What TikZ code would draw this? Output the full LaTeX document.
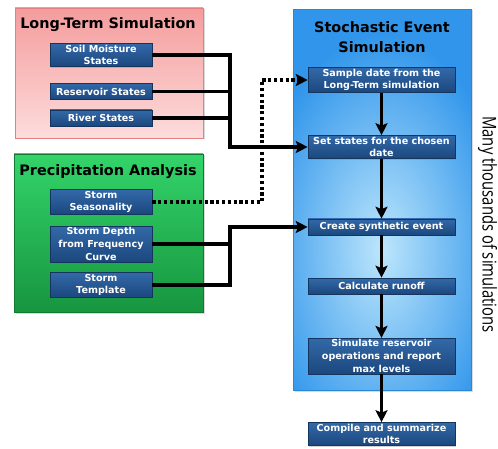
\documentclass[tikz,border=0pt]{standalone}
\usepackage{fontspec}
\setmainfont{DejaVu Sans}
\newfontfamily\sidefont{Open Sans}
\usepackage{tikz}
\usetikzlibrary{arrows.meta,calc,shadows}
\definecolor{cPinkT}{HTML}{F59C9C}
\definecolor{cPinkB}{HTML}{FDDCDC}
\definecolor{cPinkD}{HTML}{E68080}
\definecolor{cGreenT}{HTML}{33D46A}
\definecolor{cGreenB}{HTML}{17953F}
\definecolor{cGreenD}{HTML}{0F7A30}
\definecolor{cSky}{HTML}{3196EB}
\definecolor{cSkyL}{HTML}{BDE6FC}
\definecolor{cSkyD}{HTML}{2A86D6}
\definecolor{cBoxT}{HTML}{3369A9}
\definecolor{cBoxB}{HTML}{1B477D}
\definecolor{cBoxD}{HTML}{14355E}
\tikzset{
  panel/.style={draw=#1,line width=.8pt,
              drop shadow={opacity=.3,shadow xshift=1.5pt,shadow yshift=-1.5pt}},
  paneltitle/.style={font=\fontsize{14.4}{19.5}\selectfont\bfseries,align=center},
  stepbox/.style={draw=cBoxD,line width=.6pt,top color=cBoxT,bottom color=cBoxB,
              text=white,align=center,inner sep=1.5pt,minimum height=16pt,
              font=\fontsize{9.6}{12.6}\selectfont\bfseries,
              drop shadow={opacity=.35,shadow xshift=1pt,shadow yshift=-1pt}},
  leftbox/.style={stepbox,minimum width=102pt},
  rightbox/.style={stepbox,minimum width=147pt},
  feed/.style={line width=3.3pt,black},
  flow/.style={feed,-{Stealth[length=12pt,width=12pt,inset=2.5pt]}},
  dotflow/.style={flow,dash pattern=on 3.2pt off 2.6pt},
}
\begin{document}
\begin{tikzpicture}[x=1pt,y=-1pt]
  \useasboundingbox (0,0) rectangle (498,449);
  % three panels
  \path[panel=cPinkD,top color=cPinkT,bottom color=cPinkB] (15,8) rectangle (203,138);
  \path[panel=cGreenD,top color=cGreenT,bottom color=cGreenB] (14,154) rectangle (203,312);
  \path[panel=cSkyD,fill=cSky] (293,9) rectangle (471,390);
  \begin{scope}
    \clip (293,9) rectangle (471,390);
    \shade[inner color=cSkyL,outer color=cSky] (382,250) ellipse (125 and 215);
  \end{scope}
  \draw[cSkyD,line width=.8pt] (293,9) rectangle (471,390);
  \node[paneltitle] (ltitle) at (108,25) {Long-Term Simulation};
  \node[paneltitle] (ptitle) at (108,172) {Precipitation Analysis};
  \node[paneltitle] (stitle) at (382,37) {Stochastic Event\\Simulation};

  % inputs on the left
  \node[leftbox] (soil) at (101,55) {Soil Moisture\\States};
  \node[leftbox] (reservoir) at (101,91.5) {Reservoir States};
  \node[leftbox] (river) at (101,118) {River States};
  \node[leftbox] (season) at (101,202) {Storm\\Seasonality};
  \node[leftbox] (depth) at (101,244) {Storm Depth\\from Frequency\\Curve};
  \node[leftbox] (template) at (101,285) {Storm\\Template};

  % steps of one event
  \node[rightbox] (sample) at (381.5,80) {Sample date from the\\Long-Term simulation};
  \node[rightbox] (setstates) at (381.5,147) {Set states for the chosen\\date};
  \node[rightbox] (create) at (381.5,227) {Create synthetic event};
  \node[rightbox] (runoff) at (381.5,286) {Calculate runoff};
  \node[rightbox] (operate) at (381.5,356) {Simulate reservoir\\operations and report\\max levels};
  \node[rightbox] (compile) at (381.5,434) {Compile and summarize\\results};

  \coordinate (jA) at (230,0);
  \coordinate (jB) at (262,0);
  \draw[flow] (soil.east) -| (jA |- setstates.west) -- (setstates.west);
  \draw[feed] (reservoir.east) -- (reservoir.east -| jA);
  \draw[feed] (river.east) -- (river.east -| jA);
  \draw[dotflow] (season.east) -| (jB |- sample.west) -- (sample.west);
  \draw[flow] (template.east) -| (jA |- create.west) -- (create.west);
  \draw[feed] (depth.east) -- (depth.east -| jA);

  \draw[flow] (sample) -- (setstates);
  \draw[flow] (setstates) -- (create);
  \draw[flow] (create) -- (runoff);
  \draw[flow] (runoff) -- (operate);
  \draw[flow] (operate) -- (compile);

  \node[rotate=-90,font=\sidefont\fontsize{19}{19}\selectfont] (many) at (487.5,224.5)
    {\scalebox{.78}[1]{Many thousands of simulations}};
\end{tikzpicture}
\end{document}
